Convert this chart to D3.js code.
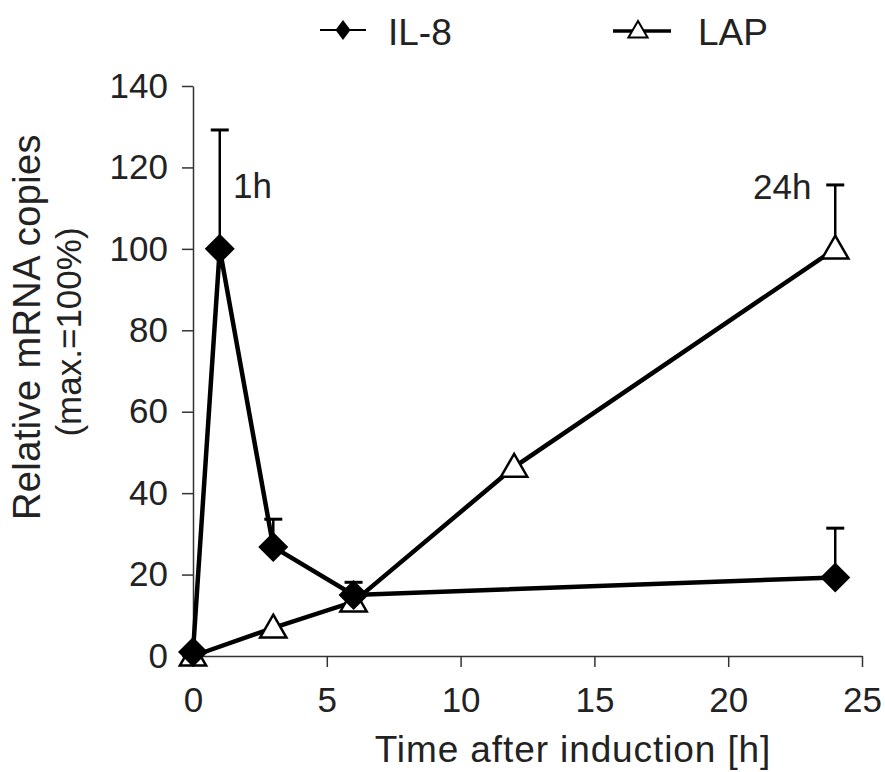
<!DOCTYPE html>
<html>
<head>
<meta charset="utf-8">
<script src="https://cdn.jsdelivr.net/npm/d3@7"></script>
<style>
  body { margin: 0; background: #fff; }
  text { font-family: "Liberation Sans", Arial, sans-serif; fill: #222; }
</style>
</head>
<body>
<svg></svg>
<script>
const svgWidth = 885;
const svgHeight = 772;

// data
const il8Time = [0, 1, 3, 6, 24];
const il8Value = [1, 100, 26.8, 15, 19.3];
const il8Err = [0, 29.2, 6.8, 3.1, 12.1];

const lapTime = [0, 3, 6, 12, 24];
const lapValue = [0, 6.9, 13.3, 46.4, 100];
const lapErr = [0, 0, 0, 0, 15.7];

const xTicks = [0, 5, 10, 15, 20, 25];
const yTicks = [0, 20, 40, 60, 80, 100, 120, 140];

const svg = d3.select("svg")
    .attr("width", svgWidth)
    .attr("height", svgHeight);

const x = d3.scaleLinear().domain([0, 25]).range([193, 862]);
const y = d3.scaleLinear().domain([0, 140]).range([656, 86]);

// axes
const xAxis = svg.append("g")
    .attr("transform", "translate(0," + y(0) + ")")
    .call(d3.axisBottom(x).tickValues(xTicks).tickSize(11).tickPadding(20).tickSizeOuter(0));
const yAxis = svg.append("g")
    .attr("transform", "translate(" + x(0) + ",0)")
    .call(d3.axisLeft(y).tickValues(yTicks).tickSize(11).tickPadding(14).tickSizeOuter(0));

[xAxis, yAxis].forEach(a => {
    a.select(".domain").attr("stroke", "#333").attr("stroke-width", 1.5);
    a.selectAll(".tick line").attr("stroke", "#333").attr("stroke-width", 1.5);
    a.selectAll(".tick text")
        .attr("font-size", 35)
        .attr("font-family", "'Liberation Sans', Arial, sans-serif")
        .attr("fill", "#222");
});
xAxis.selectAll(".tick text").attr("dy", "0.71em");

// axis titles
svg.append("text")
    .attr("x", 573)
    .attr("y", 762)
    .attr("text-anchor", "middle")
    .attr("font-size", 37)
    .attr("letter-spacing", 0.9)
    .text("Time after induction [h]");

svg.append("text")
    .attr("transform", "translate(40,327) rotate(-90)")
    .attr("text-anchor", "middle")
    .attr("font-size", 38)
    .attr("letter-spacing", 0.4)
    .text("Relative mRNA copies");

svg.append("text")
    .attr("transform", "translate(81,332) rotate(-90)")
    .attr("text-anchor", "middle")
    .attr("font-size", 35)
    .text("(max.=100%)");

const il8 = il8Time.map((t, i) => ({t: t, v: il8Value[i], e: il8Err[i]}));
const lap = lapTime.map((t, i) => ({t: t, v: lapValue[i], e: lapErr[i]}));

const line = d3.line().x(d => x(d.t)).y(d => y(d.v));

function errorBars(data) {
    const g = svg.append("g").attr("stroke", "#000").attr("stroke-width", 2.5);
    const withErr = data.filter(d => d.e > 0);
    g.selectAll("line.v").data(withErr).enter().append("line")
        .attr("x1", d => x(d.t)).attr("x2", d => x(d.t))
        .attr("y1", d => y(d.v)).attr("y2", d => y(d.v + d.e));
    g.selectAll("line.c").data(withErr).enter().append("line")
        .attr("x1", d => x(d.t) - 9).attr("x2", d => x(d.t) + 9)
        .attr("y1", d => y(d.v + d.e)).attr("y2", d => y(d.v + d.e))
        .attr("stroke-width", 3);
}

// LAP series
errorBars(lap);
svg.append("path")
    .datum(lap)
    .attr("fill", "none")
    .attr("stroke", "#000")
    .attr("stroke-width", 4.5)
    .attr("d", line);
const tri = d3.symbol().type(d3.symbolTriangle).size(300);
svg.append("g").selectAll("path")
    .data(lap)
    .enter().append("path")
    .attr("transform", d => "translate(" + x(d.t) + "," + (y(d.v) + 2) + ")")
    .attr("d", tri)
    .attr("fill", "#fff")
    .attr("stroke", "#000")
    .attr("stroke-width", 2.5);

// IL-8 series
errorBars(il8);
svg.append("path")
    .datum(il8)
    .attr("fill", "none")
    .attr("stroke", "#000")
    .attr("stroke-width", 4.5)
    .attr("d", line);
const diamond = d3.symbol().type(d3.symbolSquare).size(450);
svg.append("g").selectAll("path")
    .data(il8)
    .enter().append("path")
    .attr("transform", d => "translate(" + x(d.t) + "," + y(d.v) + ") rotate(45)")
    .attr("d", diamond)
    .attr("fill", "#000");

// annotations
svg.append("text").attr("x", 233).attr("y", 198).attr("font-size", 35).text("1h");
svg.append("text").attr("x", 753).attr("y", 199).attr("font-size", 35).text("24h");

// legend
const legend = svg.append("g");
legend.append("line")
    .attr("x1", 320).attr("x2", 366).attr("y1", 30).attr("y2", 30)
    .attr("stroke", "#000").attr("stroke-width", 2.2);
legend.append("path")
    .attr("transform", "translate(343,30) scale(0.75,1) rotate(45)")
    .attr("d", d3.symbol().type(d3.symbolSquare).size(200))
    .attr("fill", "#000");
legend.append("text").attr("x", 388).attr("y", 45).attr("font-size", 37).text("IL-8");

legend.append("line")
    .attr("x1", 613).attr("x2", 671).attr("y1", 31).attr("y2", 31)
    .attr("stroke", "#000").attr("stroke-width", 3.5);
legend.append("path")
    .attr("transform", "translate(638,32)")
    .attr("d", d3.symbol().type(d3.symbolTriangle).size(160))
    .attr("fill", "#fff")
    .attr("stroke", "#000")
    .attr("stroke-width", 2);
legend.append("text").attr("x", 698).attr("y", 45).attr("font-size", 37).text("LAP");
</script>
</body>
</html>
